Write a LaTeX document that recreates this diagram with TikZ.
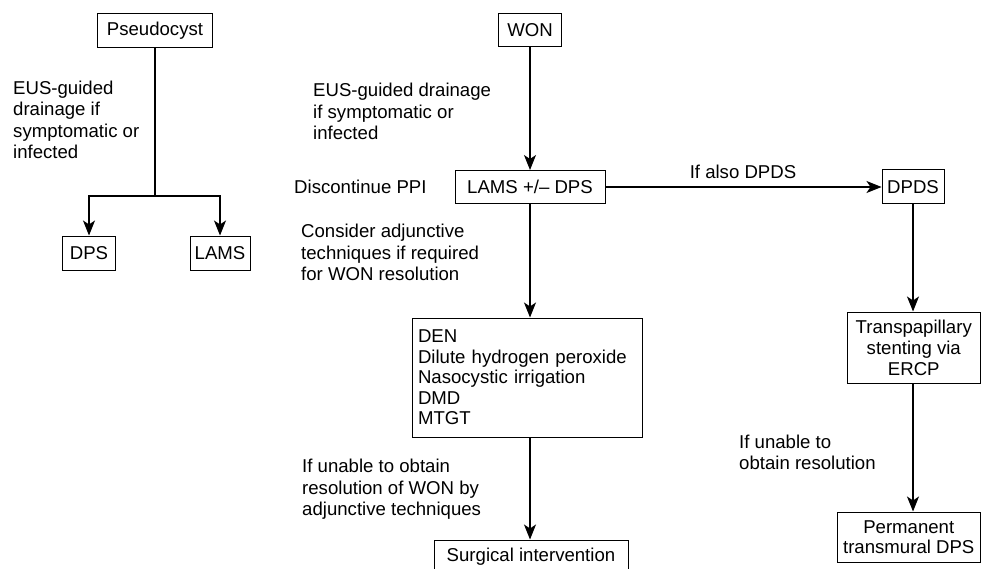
\documentclass[tikz,border=0pt]{standalone}
\usepackage{fontspec}
\setmainfont{Liberation Sans}
\usetikzlibrary{arrows.meta}
\begin{document}
\begin{tikzpicture}[x=1pt,y=-1pt,
  every node/.style={font=\fontsize{18.6}{21.5}\selectfont, inner sep=0pt},
  box/.style={draw, line width=1pt, align=center},
  lbl/.style={anchor=west, align=left},
  conn/.style={line width=1.1pt},
  arr/.style={conn, -{Stealth[length=15pt,width=12pt,inset=4pt]}}]
\clip (0,0) rectangle (981,569);
% left branch
\node[box, minimum width=115pt, minimum height=34pt] (pseudo) at (155,31) {Pseudocyst};
\node[box, minimum width=53pt, minimum height=34pt] (dps) at (89,253) {DPS};
\node[box, minimum width=60pt, minimum height=34pt] (lamsL) at (220,253) {LAMS};
\coordinate (split) at (155,196);
\draw[conn] (pseudo) -- (split);
\draw[arr] (split) -| (dps);
\draw[arr] (split) -| (lamsL);
\node[lbl] (l1) at (13,120) {EUS-guided\\drainage if\\symptomatic or\\infected};
% middle branch
\node[box, minimum width=63pt, minimum height=33pt] (won) at (530,30) {WON};
\node[box, minimum width=150pt, minimum height=33pt] (lams) at (530,187) {LAMS +/-- DPS};
\node[box, align=left, text width=218pt, inner xsep=6pt, minimum height=119pt,
      font=\fontsize{18.6}{20.5}\selectfont] (den) at (527,377.5)
      {DEN\\Dilute hydrogen peroxide\\Nasocystic irrigation\\DMD\\MTGT};
\node[box, minimum width=194pt, minimum height=34pt] (surg) at (531,557) {Surgical intervention};
\draw[arr] (won) -- (lams);
\draw[arr] (lams.south) -- (lams.south |- den.north);
\draw[arr] (lams.south |- den.south) -- (lams.south |- surg.north);
\node[lbl] (l2) at (313,111.5) {EUS-guided drainage\\if symptomatic or\\infected};
\node[lbl] (l3) at (294,187) {Discontinue PPI};
\node[lbl] (l4) at (301,252.5) {Consider adjunctive\\techniques if required\\for WON resolution};
\node[lbl] (l5) at (302,489.5) {If unable to obtain\\resolution of WON by\\adjunctive techniques};
% right branch
\node[box, minimum width=62pt, minimum height=34pt] (dpds) at (913,187) {DPDS};
\node[box, minimum width=133.5pt, minimum height=71pt, font=\fontsize{18.6}{21}\selectfont] (trans) at (913.75,347.5) {Transpapillary\\stenting via\\ERCP};
\node[box, minimum width=143.5pt, minimum height=50pt, font=\fontsize{18.6}{20.5}\selectfont] (perm) at (908.75,537) {Permanent\\transmural DPS};
\draw[arr] (lams) -- (dpds);
\draw[arr] (dpds.south) -- (dpds.south |- trans.north);
\draw[arr] (dpds.south |- trans.south) -- (dpds.south |- perm.north);
\node (l6) at (743,172) {If also DPDS};
\node[lbl] (l7) at (739,452.5) {If unable to\\obtain resolution};
\end{tikzpicture}
\end{document}
